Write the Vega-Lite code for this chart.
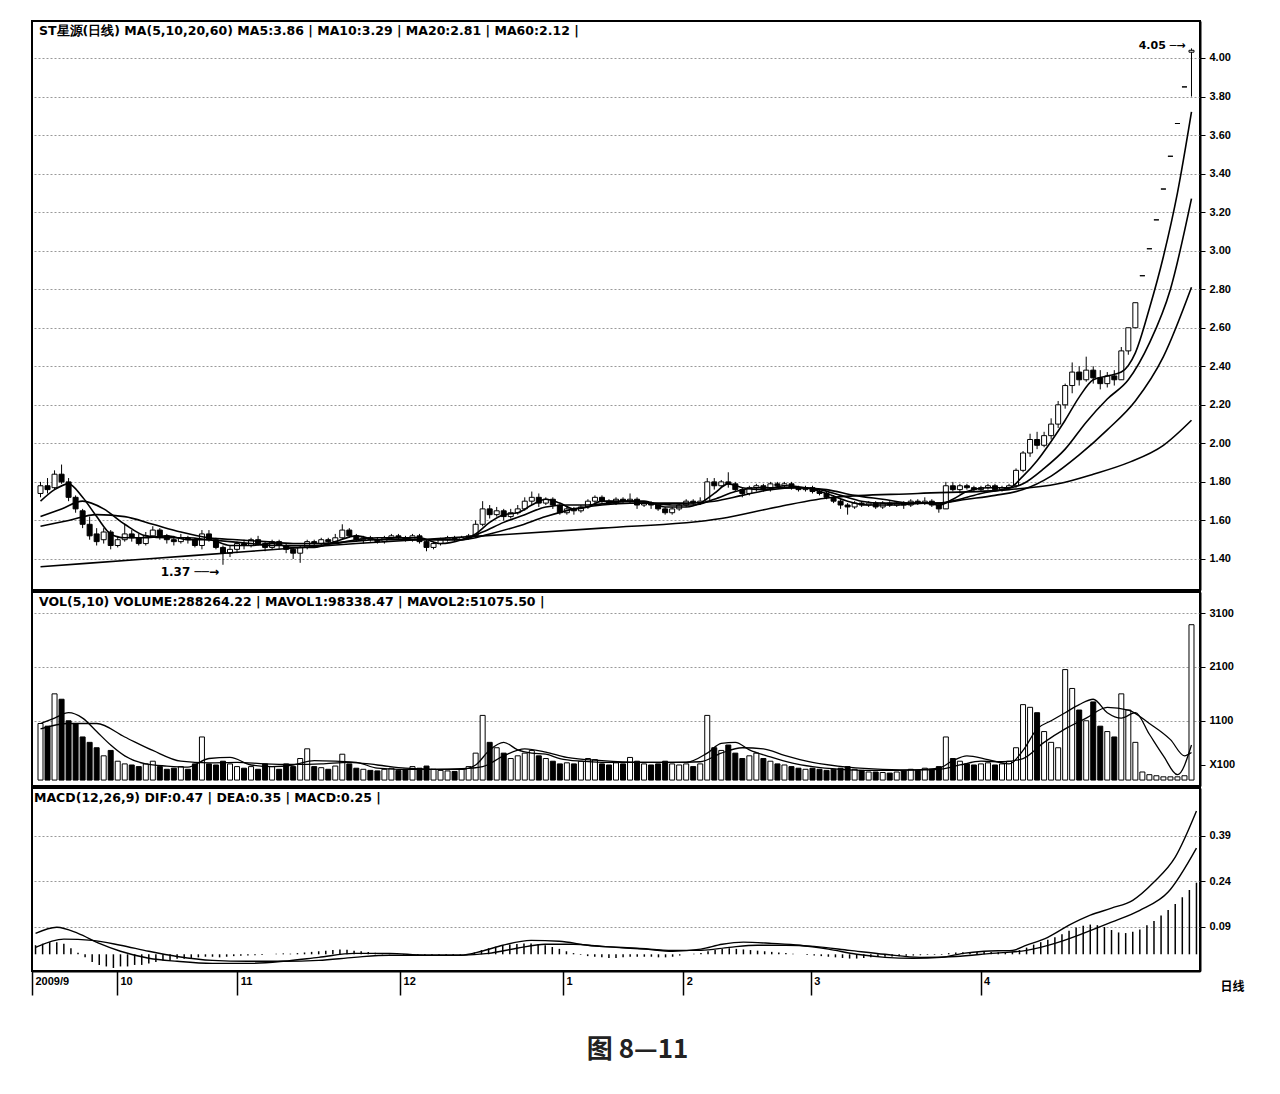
{
"$schema": "https://vega.github.io/schema/vega-lite/v6.json",
"padding": {"left": 30, "top": 20, "right": 10, "bottom": 10},
"background": "white",
"spacing": 0,
"title": {"text": "图 8—11", "orient": "bottom", "anchor": "middle", "font": "Noto Sans CJK SC", "fontSize": 26, "fontWeight": "bold", "color": "#222", "offset": 40},
"config": {
  "view": {"stroke": "black", "strokeWidth": 2},
  "axis": {"labelFont": "Liberation Sans", "labelFontWeight": "bold", "labelFontSize": 11, "labelColor": "black", "tickColor": "black", "domainColor": "black", "domainWidth": 2, "gridColor": "#999", "gridDash": [2, 2]},
  "text": {"font": "DejaVu Sans"}
},
"datasets": {
"bars": [
{"i":0,"o":1.74,"h":1.80,"l":1.72,"c":1.78,"v":1050,"m":0.03},
{"i":1,"o":1.78,"h":1.82,"l":1.74,"c":1.76,"v":1000,"m":0.035},
{"i":2,"o":1.77,"h":1.86,"l":1.76,"c":1.84,"v":1600,"m":0.04},
{"i":3,"o":1.84,"h":1.89,"l":1.79,"c":1.80,"v":1500,"m":0.04},
{"i":4,"o":1.80,"h":1.82,"l":1.70,"c":1.72,"v":1100,"m":0.035},
{"i":5,"o":1.72,"h":1.73,"l":1.64,"c":1.66,"v":1050,"m":0.02},
{"i":6,"o":1.65,"h":1.66,"l":1.56,"c":1.58,"v":800,"m":0.005},
{"i":7,"o":1.58,"h":1.62,"l":1.50,"c":1.52,"v":700,"m":-0.01},
{"i":8,"o":1.53,"h":1.56,"l":1.47,"c":1.49,"v":600,"m":-0.025},
{"i":9,"o":1.50,"h":1.56,"l":1.48,"c":1.54,"v":450,"m":-0.035},
{"i":10,"o":1.54,"h":1.55,"l":1.45,"c":1.47,"v":550,"m":-0.04},
{"i":11,"o":1.47,"h":1.52,"l":1.46,"c":1.50,"v":350,"m":-0.045},
{"i":12,"o":1.50,"h":1.58,"l":1.49,"c":1.53,"v":300,"m":-0.04},
{"i":13,"o":1.53,"h":1.55,"l":1.49,"c":1.51,"v":280,"m":-0.04},
{"i":14,"o":1.51,"h":1.53,"l":1.47,"c":1.48,"v":250,"m":-0.035},
{"i":15,"o":1.48,"h":1.54,"l":1.47,"c":1.52,"v":300,"m":-0.035},
{"i":16,"o":1.52,"h":1.57,"l":1.51,"c":1.55,"v":350,"m":-0.03},
{"i":17,"o":1.55,"h":1.56,"l":1.50,"c":1.52,"v":250,"m":-0.025},
{"i":18,"o":1.52,"h":1.53,"l":1.48,"c":1.50,"v":200,"m":-0.02},
{"i":19,"o":1.50,"h":1.52,"l":1.47,"c":1.49,"v":220,"m":-0.02},
{"i":20,"o":1.49,"h":1.53,"l":1.48,"c":1.51,"v":250,"m":-0.015},
{"i":21,"o":1.51,"h":1.52,"l":1.48,"c":1.50,"v":200,"m":-0.015},
{"i":22,"o":1.50,"h":1.51,"l":1.46,"c":1.47,"v":300,"m":-0.012},
{"i":23,"o":1.47,"h":1.55,"l":1.45,"c":1.53,"v":800,"m":-0.01},
{"i":24,"o":1.53,"h":1.55,"l":1.49,"c":1.50,"v":300,"m":-0.008},
{"i":25,"o":1.50,"h":1.51,"l":1.45,"c":1.46,"v":280,"m":-0.008},
{"i":26,"o":1.46,"h":1.47,"l":1.37,"c":1.43,"v":350,"m":-0.01},
{"i":27,"o":1.43,"h":1.47,"l":1.41,"c":1.45,"v":300,"m":-0.008},
{"i":28,"o":1.45,"h":1.49,"l":1.43,"c":1.48,"v":250,"m":-0.006},
{"i":29,"o":1.48,"h":1.50,"l":1.45,"c":1.47,"v":220,"m":-0.005},
{"i":30,"o":1.47,"h":1.51,"l":1.46,"c":1.50,"v":250,"m":-0.004},
{"i":31,"o":1.50,"h":1.52,"l":1.47,"c":1.48,"v":200,"m":-0.003},
{"i":32,"o":1.48,"h":1.49,"l":1.44,"c":1.46,"v":300,"m":-0.002},
{"i":33,"o":1.46,"h":1.50,"l":1.45,"c":1.49,"v":250,"m":0},
{"i":34,"o":1.49,"h":1.50,"l":1.45,"c":1.47,"v":200,"m":0.002},
{"i":35,"o":1.47,"h":1.48,"l":1.43,"c":1.45,"v":300,"m":0.003},
{"i":36,"o":1.45,"h":1.46,"l":1.40,"c":1.43,"v":250,"m":0.002},
{"i":37,"o":1.43,"h":1.47,"l":1.38,"c":1.46,"v":400,"m":0.004},
{"i":38,"o":1.46,"h":1.50,"l":1.45,"c":1.49,"v":580,"m":0.006},
{"i":39,"o":1.49,"h":1.50,"l":1.46,"c":1.48,"v":250,"m":0.008},
{"i":40,"o":1.48,"h":1.51,"l":1.47,"c":1.50,"v":230,"m":0.01},
{"i":41,"o":1.50,"h":1.51,"l":1.47,"c":1.49,"v":200,"m":0.012},
{"i":42,"o":1.49,"h":1.53,"l":1.48,"c":1.51,"v":260,"m":0.014},
{"i":43,"o":1.51,"h":1.58,"l":1.50,"c":1.55,"v":480,"m":0.016},
{"i":44,"o":1.55,"h":1.56,"l":1.51,"c":1.52,"v":300,"m":0.015},
{"i":45,"o":1.52,"h":1.53,"l":1.49,"c":1.50,"v":220,"m":0.012},
{"i":46,"o":1.50,"h":1.52,"l":1.48,"c":1.51,"v":200,"m":0.01},
{"i":47,"o":1.51,"h":1.52,"l":1.49,"c":1.50,"v":180,"m":0.008},
{"i":48,"o":1.50,"h":1.51,"l":1.48,"c":1.49,"v":170,"m":0.005},
{"i":49,"o":1.49,"h":1.52,"l":1.48,"c":1.51,"v":200,"m":0.003},
{"i":50,"o":1.51,"h":1.53,"l":1.50,"c":1.52,"v":220,"m":0.002},
{"i":51,"o":1.52,"h":1.53,"l":1.50,"c":1.51,"v":180,"m":0},
{"i":52,"o":1.51,"h":1.52,"l":1.49,"c":1.50,"v":200,"m":-0.002},
{"i":53,"o":1.50,"h":1.53,"l":1.49,"c":1.52,"v":250,"m":-0.003},
{"i":54,"o":1.52,"h":1.53,"l":1.48,"c":1.49,"v":220,"m":-0.004},
{"i":55,"o":1.49,"h":1.50,"l":1.44,"c":1.46,"v":260,"m":-0.005},
{"i":56,"o":1.46,"h":1.49,"l":1.45,"c":1.48,"v":200,"m":-0.005},
{"i":57,"o":1.48,"h":1.51,"l":1.47,"c":1.50,"v":180,"m":-0.004},
{"i":58,"o":1.50,"h":1.52,"l":1.49,"c":1.51,"v":170,"m":-0.003},
{"i":59,"o":1.51,"h":1.52,"l":1.49,"c":1.50,"v":160,"m":-0.002},
{"i":60,"o":1.50,"h":1.52,"l":1.50,"c":1.51,"v":200,"m":-0.002},
{"i":61,"o":1.51,"h":1.53,"l":1.50,"c":1.52,"v":250,"m":0},
{"i":62,"o":1.52,"h":1.60,"l":1.51,"c":1.58,"v":500,"m":0.006},
{"i":63,"o":1.58,"h":1.70,"l":1.57,"c":1.66,"v":1200,"m":0.014},
{"i":64,"o":1.66,"h":1.68,"l":1.61,"c":1.63,"v":700,"m":0.02},
{"i":65,"o":1.63,"h":1.67,"l":1.62,"c":1.65,"v":600,"m":0.025},
{"i":66,"o":1.65,"h":1.66,"l":1.60,"c":1.62,"v":500,"m":0.03},
{"i":67,"o":1.62,"h":1.66,"l":1.61,"c":1.64,"v":400,"m":0.032},
{"i":68,"o":1.64,"h":1.68,"l":1.63,"c":1.66,"v":450,"m":0.034},
{"i":69,"o":1.66,"h":1.72,"l":1.65,"c":1.70,"v":500,"m":0.036},
{"i":70,"o":1.70,"h":1.75,"l":1.68,"c":1.72,"v":550,"m":0.036},
{"i":71,"o":1.72,"h":1.74,"l":1.67,"c":1.69,"v":450,"m":0.034},
{"i":72,"o":1.69,"h":1.72,"l":1.68,"c":1.71,"v":400,"m":0.03},
{"i":73,"o":1.71,"h":1.72,"l":1.66,"c":1.68,"v":350,"m":0.024},
{"i":74,"o":1.68,"h":1.69,"l":1.63,"c":1.64,"v":300,"m":0.018},
{"i":75,"o":1.64,"h":1.67,"l":1.63,"c":1.66,"v":320,"m":0.01},
{"i":76,"o":1.66,"h":1.67,"l":1.63,"c":1.65,"v":300,"m":0.004},
{"i":77,"o":1.65,"h":1.68,"l":1.64,"c":1.67,"v":350,"m":-0.002},
{"i":78,"o":1.67,"h":1.71,"l":1.66,"c":1.70,"v":400,"m":-0.006},
{"i":79,"o":1.70,"h":1.73,"l":1.69,"c":1.72,"v":380,"m":-0.008},
{"i":80,"o":1.72,"h":1.73,"l":1.69,"c":1.70,"v":300,"m":-0.01},
{"i":81,"o":1.70,"h":1.71,"l":1.68,"c":1.69,"v":280,"m":-0.012},
{"i":82,"o":1.69,"h":1.72,"l":1.68,"c":1.71,"v":320,"m":-0.012},
{"i":83,"o":1.71,"h":1.72,"l":1.69,"c":1.70,"v":300,"m":-0.01},
{"i":84,"o":1.70,"h":1.74,"l":1.69,"c":1.71,"v":420,"m":-0.008},
{"i":85,"o":1.71,"h":1.72,"l":1.66,"c":1.68,"v":350,"m":-0.008},
{"i":86,"o":1.68,"h":1.70,"l":1.67,"c":1.69,"v":300,"m":-0.008},
{"i":87,"o":1.69,"h":1.70,"l":1.66,"c":1.68,"v":280,"m":-0.008},
{"i":88,"o":1.68,"h":1.69,"l":1.65,"c":1.66,"v":300,"m":-0.01},
{"i":89,"o":1.66,"h":1.67,"l":1.63,"c":1.64,"v":350,"m":-0.01},
{"i":90,"o":1.64,"h":1.67,"l":1.63,"c":1.66,"v":300,"m":-0.008},
{"i":91,"o":1.66,"h":1.69,"l":1.65,"c":1.68,"v":280,"m":-0.004},
{"i":92,"o":1.68,"h":1.71,"l":1.67,"c":1.70,"v":300,"m":0},
{"i":93,"o":1.70,"h":1.71,"l":1.68,"c":1.69,"v":250,"m":0.002},
{"i":94,"o":1.69,"h":1.72,"l":1.68,"c":1.70,"v":300,"m":0.004},
{"i":95,"o":1.70,"h":1.82,"l":1.70,"c":1.80,"v":1200,"m":0.01},
{"i":96,"o":1.80,"h":1.82,"l":1.76,"c":1.78,"v":600,"m":0.014},
{"i":97,"o":1.78,"h":1.81,"l":1.77,"c":1.80,"v":550,"m":0.018},
{"i":98,"o":1.80,"h":1.85,"l":1.77,"c":1.79,"v":650,"m":0.02},
{"i":99,"o":1.79,"h":1.80,"l":1.75,"c":1.76,"v":500,"m":0.018},
{"i":100,"o":1.76,"h":1.77,"l":1.72,"c":1.74,"v":400,"m":0.016},
{"i":101,"o":1.74,"h":1.78,"l":1.73,"c":1.77,"v":450,"m":0.014},
{"i":102,"o":1.77,"h":1.79,"l":1.75,"c":1.78,"v":500,"m":0.012},
{"i":103,"o":1.78,"h":1.79,"l":1.75,"c":1.76,"v":400,"m":0.01},
{"i":104,"o":1.76,"h":1.80,"l":1.75,"c":1.79,"v":350,"m":0.008},
{"i":105,"o":1.79,"h":1.80,"l":1.77,"c":1.78,"v":300,"m":0.006},
{"i":106,"o":1.78,"h":1.80,"l":1.77,"c":1.79,"v":280,"m":0.004},
{"i":107,"o":1.79,"h":1.80,"l":1.76,"c":1.77,"v":250,"m":0.002},
{"i":108,"o":1.77,"h":1.78,"l":1.75,"c":1.76,"v":220,"m":0},
{"i":109,"o":1.76,"h":1.78,"l":1.75,"c":1.77,"v":200,"m":-0.002},
{"i":110,"o":1.77,"h":1.78,"l":1.74,"c":1.75,"v":220,"m":-0.004},
{"i":111,"o":1.75,"h":1.76,"l":1.73,"c":1.74,"v":200,"m":-0.006},
{"i":112,"o":1.74,"h":1.75,"l":1.71,"c":1.72,"v":180,"m":-0.008},
{"i":113,"o":1.72,"h":1.73,"l":1.69,"c":1.70,"v":200,"m":-0.01},
{"i":114,"o":1.70,"h":1.71,"l":1.66,"c":1.68,"v":220,"m":-0.012},
{"i":115,"o":1.68,"h":1.69,"l":1.63,"c":1.67,"v":250,"m":-0.014},
{"i":116,"o":1.67,"h":1.70,"l":1.66,"c":1.69,"v":200,"m":-0.014},
{"i":117,"o":1.69,"h":1.70,"l":1.67,"c":1.68,"v":180,"m":-0.012},
{"i":118,"o":1.68,"h":1.70,"l":1.67,"c":1.69,"v":150,"m":-0.01},
{"i":119,"o":1.69,"h":1.70,"l":1.66,"c":1.67,"v":150,"m":-0.009},
{"i":120,"o":1.67,"h":1.70,"l":1.66,"c":1.69,"v":140,"m":-0.008},
{"i":121,"o":1.69,"h":1.70,"l":1.67,"c":1.68,"v":130,"m":-0.007},
{"i":122,"o":1.68,"h":1.70,"l":1.67,"c":1.69,"v":150,"m":-0.006},
{"i":123,"o":1.69,"h":1.70,"l":1.66,"c":1.68,"v":170,"m":-0.005},
{"i":124,"o":1.68,"h":1.71,"l":1.67,"c":1.70,"v":200,"m":-0.004},
{"i":125,"o":1.70,"h":1.71,"l":1.68,"c":1.69,"v":180,"m":-0.003},
{"i":126,"o":1.69,"h":1.72,"l":1.68,"c":1.70,"v":220,"m":-0.002},
{"i":127,"o":1.70,"h":1.71,"l":1.67,"c":1.68,"v":200,"m":-0.002},
{"i":128,"o":1.68,"h":1.69,"l":1.64,"c":1.66,"v":250,"m":-0.002},
{"i":129,"o":1.66,"h":1.80,"l":1.66,"c":1.78,"v":800,"m":0.004},
{"i":130,"o":1.78,"h":1.80,"l":1.75,"c":1.76,"v":400,"m":0.006},
{"i":131,"o":1.76,"h":1.79,"l":1.74,"c":1.78,"v":350,"m":0.007},
{"i":132,"o":1.78,"h":1.79,"l":1.76,"c":1.77,"v":300,"m":0.008},
{"i":133,"o":1.77,"h":1.78,"l":1.75,"c":1.76,"v":280,"m":0.008},
{"i":134,"o":1.76,"h":1.78,"l":1.75,"c":1.77,"v":300,"m":0.008},
{"i":135,"o":1.77,"h":1.79,"l":1.76,"c":1.78,"v":320,"m":0.008},
{"i":136,"o":1.78,"h":1.79,"l":1.75,"c":1.76,"v":280,"m":0.007},
{"i":137,"o":1.76,"h":1.78,"l":1.75,"c":1.77,"v":300,"m":0.007},
{"i":138,"o":1.77,"h":1.79,"l":1.76,"c":1.78,"v":350,"m":0.008},
{"i":139,"o":1.78,"h":1.87,"l":1.77,"c":1.86,"v":600,"m":0.014},
{"i":140,"o":1.86,"h":1.96,"l":1.85,"c":1.95,"v":1400,"m":0.022},
{"i":141,"o":1.95,"h":2.05,"l":1.93,"c":2.02,"v":1350,"m":0.032},
{"i":142,"o":2.02,"h":2.06,"l":1.97,"c":1.99,"v":1250,"m":0.04},
{"i":143,"o":1.99,"h":2.06,"l":1.98,"c":2.04,"v":900,"m":0.048},
{"i":144,"o":2.04,"h":2.13,"l":2.02,"c":2.10,"v":700,"m":0.056},
{"i":145,"o":2.10,"h":2.22,"l":2.08,"c":2.20,"v":600,"m":0.066},
{"i":146,"o":2.20,"h":2.31,"l":2.18,"c":2.30,"v":2050,"m":0.078},
{"i":147,"o":2.30,"h":2.42,"l":2.26,"c":2.37,"v":1700,"m":0.088},
{"i":148,"o":2.37,"h":2.40,"l":2.30,"c":2.33,"v":1300,"m":0.094},
{"i":149,"o":2.33,"h":2.45,"l":2.32,"c":2.38,"v":1100,"m":0.098},
{"i":150,"o":2.38,"h":2.40,"l":2.31,"c":2.34,"v":1450,"m":0.096},
{"i":151,"o":2.34,"h":2.38,"l":2.28,"c":2.31,"v":1000,"m":0.09},
{"i":152,"o":2.31,"h":2.37,"l":2.29,"c":2.35,"v":900,"m":0.08},
{"i":153,"o":2.35,"h":2.38,"l":2.30,"c":2.33,"v":800,"m":0.072},
{"i":154,"o":2.33,"h":2.50,"l":2.33,"c":2.48,"v":1600,"m":0.07},
{"i":155,"o":2.48,"h":2.60,"l":2.46,"c":2.60,"v":1300,"m":0.074},
{"i":156,"o":2.60,"h":2.73,"l":2.60,"c":2.73,"v":700,"m":0.082},
{"i":157,"o":2.87,"h":2.87,"l":2.87,"c":2.87,"v":150,"m":0.096},
{"i":158,"o":3.01,"h":3.01,"l":3.01,"c":3.01,"v":100,"m":0.11},
{"i":159,"o":3.16,"h":3.16,"l":3.16,"c":3.16,"v":80,"m":0.128},
{"i":160,"o":3.32,"h":3.32,"l":3.32,"c":3.32,"v":60,"m":0.146},
{"i":161,"o":3.49,"h":3.49,"l":3.49,"c":3.49,"v":60,"m":0.166},
{"i":162,"o":3.66,"h":3.66,"l":3.66,"c":3.66,"v":60,"m":0.188},
{"i":163,"o":3.85,"h":3.85,"l":3.85,"c":3.85,"v":80,"m":0.212},
{"i":164,"o":4.03,"h":4.05,"l":3.80,"c":4.04,"v":2883,"m":0.236}
],
"ma": [
{"s":"MA5","i":0,"v":1.70},{"s":"MA5","i":2,"v":1.76},{"s":"MA5","i":4,"v":1.79},{"s":"MA5","i":6,"v":1.72},{"s":"MA5","i":8,"v":1.62},{"s":"MA5","i":10,"v":1.53},{"s":"MA5","i":12,"v":1.51},{"s":"MA5","i":15,"v":1.51},{"s":"MA5","i":18,"v":1.52},{"s":"MA5","i":21,"v":1.50},{"s":"MA5","i":24,"v":1.50},{"s":"MA5","i":27,"v":1.47},{"s":"MA5","i":30,"v":1.47},{"s":"MA5","i":33,"v":1.48},{"s":"MA5","i":36,"v":1.46},{"s":"MA5","i":39,"v":1.46},{"s":"MA5","i":42,"v":1.49},{"s":"MA5","i":45,"v":1.52},{"s":"MA5","i":48,"v":1.50},{"s":"MA5","i":51,"v":1.51},{"s":"MA5","i":54,"v":1.51},{"s":"MA5","i":57,"v":1.48},{"s":"MA5","i":60,"v":1.50},{"s":"MA5","i":62,"v":1.53},{"s":"MA5","i":64,"v":1.59},{"s":"MA5","i":66,"v":1.63},{"s":"MA5","i":68,"v":1.64},{"s":"MA5","i":70,"v":1.68},{"s":"MA5","i":72,"v":1.71},{"s":"MA5","i":74,"v":1.69},{"s":"MA5","i":76,"v":1.66},{"s":"MA5","i":78,"v":1.67},{"s":"MA5","i":80,"v":1.70},{"s":"MA5","i":83,"v":1.70},{"s":"MA5","i":86,"v":1.70},{"s":"MA5","i":89,"v":1.67},{"s":"MA5","i":92,"v":1.67},{"s":"MA5","i":94,"v":1.69},{"s":"MA5","i":96,"v":1.74},{"s":"MA5","i":98,"v":1.79},{"s":"MA5","i":100,"v":1.77},{"s":"MA5","i":103,"v":1.76},{"s":"MA5","i":106,"v":1.78},{"s":"MA5","i":109,"v":1.77},{"s":"MA5","i":112,"v":1.74},{"s":"MA5","i":115,"v":1.70},{"s":"MA5","i":118,"v":1.68},{"s":"MA5","i":122,"v":1.68},{"s":"MA5","i":126,"v":1.69},{"s":"MA5","i":128,"v":1.68},{"s":"MA5","i":130,"v":1.71},{"s":"MA5","i":132,"v":1.75},{"s":"MA5","i":135,"v":1.77},{"s":"MA5","i":138,"v":1.77},{"s":"MA5","i":140,"v":1.83},{"s":"MA5","i":142,"v":1.91},{"s":"MA5","i":144,"v":2.01},{"s":"MA5","i":146,"v":2.12},{"s":"MA5","i":148,"v":2.24},{"s":"MA5","i":150,"v":2.33},{"s":"MA5","i":152,"v":2.35},{"s":"MA5","i":154,"v":2.37},{"s":"MA5","i":156,"v":2.47},{"s":"MA5","i":158,"v":2.70},{"s":"MA5","i":160,"v":2.97},{"s":"MA5","i":162,"v":3.30},{"s":"MA5","i":164,"v":3.72},
{"s":"MA10","i":0,"v":1.62},{"s":"MA10","i":3,"v":1.66},{"s":"MA10","i":6,"v":1.70},{"s":"MA10","i":9,"v":1.66},{"s":"MA10","i":12,"v":1.58},{"s":"MA10","i":15,"v":1.52},{"s":"MA10","i":18,"v":1.51},{"s":"MA10","i":21,"v":1.51},{"s":"MA10","i":24,"v":1.50},{"s":"MA10","i":27,"v":1.49},{"s":"MA10","i":30,"v":1.48},{"s":"MA10","i":33,"v":1.47},{"s":"MA10","i":36,"v":1.47},{"s":"MA10","i":39,"v":1.47},{"s":"MA10","i":42,"v":1.48},{"s":"MA10","i":45,"v":1.50},{"s":"MA10","i":48,"v":1.51},{"s":"MA10","i":51,"v":1.51},{"s":"MA10","i":54,"v":1.50},{"s":"MA10","i":57,"v":1.50},{"s":"MA10","i":60,"v":1.50},{"s":"MA10","i":63,"v":1.54},{"s":"MA10","i":66,"v":1.59},{"s":"MA10","i":69,"v":1.63},{"s":"MA10","i":72,"v":1.67},{"s":"MA10","i":75,"v":1.68},{"s":"MA10","i":78,"v":1.68},{"s":"MA10","i":81,"v":1.69},{"s":"MA10","i":84,"v":1.70},{"s":"MA10","i":87,"v":1.69},{"s":"MA10","i":90,"v":1.68},{"s":"MA10","i":93,"v":1.68},{"s":"MA10","i":96,"v":1.71},{"s":"MA10","i":99,"v":1.75},{"s":"MA10","i":102,"v":1.77},{"s":"MA10","i":105,"v":1.77},{"s":"MA10","i":108,"v":1.77},{"s":"MA10","i":111,"v":1.76},{"s":"MA10","i":114,"v":1.73},{"s":"MA10","i":117,"v":1.70},{"s":"MA10","i":120,"v":1.69},{"s":"MA10","i":124,"v":1.69},{"s":"MA10","i":128,"v":1.69},{"s":"MA10","i":131,"v":1.71},{"s":"MA10","i":134,"v":1.74},{"s":"MA10","i":137,"v":1.76},{"s":"MA10","i":140,"v":1.79},{"s":"MA10","i":143,"v":1.87},{"s":"MA10","i":146,"v":1.97},{"s":"MA10","i":149,"v":2.11},{"s":"MA10","i":152,"v":2.23},{"s":"MA10","i":155,"v":2.33},{"s":"MA10","i":158,"v":2.52},{"s":"MA10","i":161,"v":2.80},{"s":"MA10","i":164,"v":3.27},
{"s":"MA20","i":0,"v":1.57},{"s":"MA20","i":4,"v":1.60},{"s":"MA20","i":8,"v":1.63},{"s":"MA20","i":12,"v":1.62},{"s":"MA20","i":16,"v":1.58},{"s":"MA20","i":20,"v":1.54},{"s":"MA20","i":24,"v":1.51},{"s":"MA20","i":28,"v":1.50},{"s":"MA20","i":32,"v":1.49},{"s":"MA20","i":36,"v":1.48},{"s":"MA20","i":40,"v":1.48},{"s":"MA20","i":44,"v":1.49},{"s":"MA20","i":48,"v":1.50},{"s":"MA20","i":52,"v":1.50},{"s":"MA20","i":56,"v":1.50},{"s":"MA20","i":60,"v":1.50},{"s":"MA20","i":64,"v":1.53},{"s":"MA20","i":68,"v":1.57},{"s":"MA20","i":72,"v":1.62},{"s":"MA20","i":76,"v":1.66},{"s":"MA20","i":80,"v":1.68},{"s":"MA20","i":84,"v":1.69},{"s":"MA20","i":88,"v":1.69},{"s":"MA20","i":92,"v":1.69},{"s":"MA20","i":96,"v":1.70},{"s":"MA20","i":100,"v":1.73},{"s":"MA20","i":104,"v":1.76},{"s":"MA20","i":108,"v":1.77},{"s":"MA20","i":112,"v":1.76},{"s":"MA20","i":116,"v":1.73},{"s":"MA20","i":120,"v":1.71},{"s":"MA20","i":124,"v":1.69},{"s":"MA20","i":128,"v":1.69},{"s":"MA20","i":132,"v":1.71},{"s":"MA20","i":136,"v":1.73},{"s":"MA20","i":140,"v":1.76},{"s":"MA20","i":144,"v":1.83},{"s":"MA20","i":148,"v":1.94},{"s":"MA20","i":152,"v":2.07},{"s":"MA20","i":156,"v":2.22},{"s":"MA20","i":160,"v":2.45},{"s":"MA20","i":164,"v":2.81},
{"s":"MA60","i":0,"v":1.36},{"s":"MA60","i":15,"v":1.40},{"s":"MA60","i":30,"v":1.44},{"s":"MA60","i":45,"v":1.48},{"s":"MA60","i":63,"v":1.52},{"s":"MA60","i":80,"v":1.56},{"s":"MA60","i":97,"v":1.61},{"s":"MA60","i":105,"v":1.67},{"s":"MA60","i":113,"v":1.72},{"s":"MA60","i":125,"v":1.74},{"s":"MA60","i":138,"v":1.76},{"s":"MA60","i":145,"v":1.79},{"s":"MA60","i":150,"v":1.84},{"s":"MA60","i":155,"v":1.90},{"s":"MA60","i":160,"v":1.99},{"s":"MA60","i":164,"v":2.12}
],
"vma": [
{"s":"MAVOL1","i":0,"v":1050},{"s":"MAVOL1","i":2,"v":1150},{"s":"MAVOL1","i":4,"v":1250},{"s":"MAVOL1","i":6,"v":1150},{"s":"MAVOL1","i":8,"v":900},{"s":"MAVOL1","i":10,"v":650},{"s":"MAVOL1","i":12,"v":450},{"s":"MAVOL1","i":15,"v":300},{"s":"MAVOL1","i":18,"v":260},{"s":"MAVOL1","i":21,"v":240},{"s":"MAVOL1","i":24,"v":400},{"s":"MAVOL1","i":27,"v":420},{"s":"MAVOL1","i":30,"v":280},{"s":"MAVOL1","i":33,"v":250},{"s":"MAVOL1","i":36,"v":280},{"s":"MAVOL1","i":39,"v":360},{"s":"MAVOL1","i":42,"v":350},{"s":"MAVOL1","i":45,"v":330},{"s":"MAVOL1","i":48,"v":220},{"s":"MAVOL1","i":51,"v":200},{"s":"MAVOL1","i":54,"v":200},{"s":"MAVOL1","i":57,"v":200},{"s":"MAVOL1","i":60,"v":200},{"s":"MAVOL1","i":62,"v":280},{"s":"MAVOL1","i":64,"v":560},{"s":"MAVOL1","i":66,"v":700},{"s":"MAVOL1","i":68,"v":560},{"s":"MAVOL1","i":70,"v":500},{"s":"MAVOL1","i":72,"v":480},{"s":"MAVOL1","i":74,"v":400},{"s":"MAVOL1","i":77,"v":350},{"s":"MAVOL1","i":80,"v":330},{"s":"MAVOL1","i":84,"v":330},{"s":"MAVOL1","i":88,"v":330},{"s":"MAVOL1","i":92,"v":330},{"s":"MAVOL1","i":95,"v":500},{"s":"MAVOL1","i":97,"v":680},{"s":"MAVOL1","i":99,"v":700},{"s":"MAVOL1","i":101,"v":560},{"s":"MAVOL1","i":104,"v":430},{"s":"MAVOL1","i":107,"v":320},{"s":"MAVOL1","i":110,"v":250},{"s":"MAVOL1","i":114,"v":200},{"s":"MAVOL1","i":118,"v":180},{"s":"MAVOL1","i":122,"v":180},{"s":"MAVOL1","i":126,"v":200},{"s":"MAVOL1","i":128,"v":220},{"s":"MAVOL1","i":130,"v":360},{"s":"MAVOL1","i":132,"v":450},{"s":"MAVOL1","i":135,"v":380},{"s":"MAVOL1","i":138,"v":300},{"s":"MAVOL1","i":140,"v":550},{"s":"MAVOL1","i":142,"v":950},{"s":"MAVOL1","i":144,"v":1100},{"s":"MAVOL1","i":146,"v":1250},{"s":"MAVOL1","i":148,"v":1400},{"s":"MAVOL1","i":150,"v":1500},{"s":"MAVOL1","i":152,"v":1250},{"s":"MAVOL1","i":154,"v":1150},{"s":"MAVOL1","i":156,"v":1250},{"s":"MAVOL1","i":158,"v":850},{"s":"MAVOL1","i":160,"v":450},{"s":"MAVOL1","i":162,"v":100},{"s":"MAVOL1","i":164,"v":650},
{"s":"MAVOL2","i":0,"v":950},{"s":"MAVOL2","i":4,"v":1050},{"s":"MAVOL2","i":8,"v":1050},{"s":"MAVOL2","i":12,"v":800},{"s":"MAVOL2","i":16,"v":550},{"s":"MAVOL2","i":20,"v":350},{"s":"MAVOL2","i":24,"v":320},{"s":"MAVOL2","i":28,"v":330},{"s":"MAVOL2","i":32,"v":300},{"s":"MAVOL2","i":36,"v":290},{"s":"MAVOL2","i":40,"v":300},{"s":"MAVOL2","i":44,"v":330},{"s":"MAVOL2","i":48,"v":280},{"s":"MAVOL2","i":52,"v":220},{"s":"MAVOL2","i":56,"v":200},{"s":"MAVOL2","i":60,"v":210},{"s":"MAVOL2","i":63,"v":250},{"s":"MAVOL2","i":66,"v":450},{"s":"MAVOL2","i":69,"v":580},{"s":"MAVOL2","i":72,"v":520},{"s":"MAVOL2","i":75,"v":420},{"s":"MAVOL2","i":80,"v":360},{"s":"MAVOL2","i":85,"v":330},{"s":"MAVOL2","i":90,"v":330},{"s":"MAVOL2","i":94,"v":340},{"s":"MAVOL2","i":97,"v":500},{"s":"MAVOL2","i":100,"v":600},{"s":"MAVOL2","i":103,"v":580},{"s":"MAVOL2","i":106,"v":460},{"s":"MAVOL2","i":110,"v":330},{"s":"MAVOL2","i":115,"v":240},{"s":"MAVOL2","i":120,"v":200},{"s":"MAVOL2","i":125,"v":190},{"s":"MAVOL2","i":128,"v":200},{"s":"MAVOL2","i":131,"v":280},{"s":"MAVOL2","i":134,"v":350},{"s":"MAVOL2","i":137,"v":340},{"s":"MAVOL2","i":140,"v":400},{"s":"MAVOL2","i":143,"v":700},{"s":"MAVOL2","i":146,"v":950},{"s":"MAVOL2","i":149,"v":1150},{"s":"MAVOL2","i":152,"v":1350},{"s":"MAVOL2","i":155,"v":1300},{"s":"MAVOL2","i":158,"v":1050},{"s":"MAVOL2","i":161,"v":750},{"s":"MAVOL2","i":163,"v":450},{"s":"MAVOL2","i":164,"v":510}
],
"macd": [
{"s":"DIF","i":0,"v":0.069},{"s":"DIF","i":3,"v":0.089},{"s":"DIF","i":6,"v":0.069},{"s":"DIF","i":9,"v":0.036},{"s":"DIF","i":12,"v":0.010},{"s":"DIF","i":16,"v":-0.013},{"s":"DIF","i":20,"v":-0.023},{"s":"DIF","i":25,"v":-0.030},{"s":"DIF","i":30,"v":-0.030},{"s":"DIF","i":35,"v":-0.023},{"s":"DIF","i":40,"v":-0.010},{"s":"DIF","i":45,"v":0.003},{"s":"DIF","i":50,"v":0.003},{"s":"DIF","i":55,"v":-0.003},{"s":"DIF","i":60,"v":-0.003},{"s":"DIF","i":63,"v":0.010},{"s":"DIF","i":66,"v":0.030},{"s":"DIF","i":70,"v":0.046},{"s":"DIF","i":74,"v":0.043},{"s":"DIF","i":78,"v":0.030},{"s":"DIF","i":82,"v":0.023},{"s":"DIF","i":86,"v":0.017},{"s":"DIF","i":90,"v":0.010},{"s":"DIF","i":94,"v":0.017},{"s":"DIF","i":97,"v":0.033},{"s":"DIF","i":100,"v":0.040},{"s":"DIF","i":104,"v":0.036},{"s":"DIF","i":108,"v":0.030},{"s":"DIF","i":112,"v":0.017},{"s":"DIF","i":116,"v":0.000},{"s":"DIF","i":120,"v":-0.010},{"s":"DIF","i":124,"v":-0.013},{"s":"DIF","i":128,"v":-0.010},{"s":"DIF","i":131,"v":0.003},{"s":"DIF","i":134,"v":0.010},{"s":"DIF","i":138,"v":0.013},{"s":"DIF","i":140,"v":0.030},{"s":"DIF","i":143,"v":0.056},{"s":"DIF","i":146,"v":0.096},{"s":"DIF","i":149,"v":0.129},{"s":"DIF","i":152,"v":0.152},{"s":"DIF","i":155,"v":0.178},{"s":"DIF","i":158,"v":0.238},{"s":"DIF","i":161,"v":0.320},{"s":"DIF","i":164,"v":0.472},
{"s":"DEA","i":0,"v":0.023},{"s":"DEA","i":4,"v":0.050},{"s":"DEA","i":8,"v":0.046},{"s":"DEA","i":12,"v":0.030},{"s":"DEA","i":16,"v":0.010},{"s":"DEA","i":20,"v":-0.007},{"s":"DEA","i":25,"v":-0.020},{"s":"DEA","i":30,"v":-0.023},{"s":"DEA","i":35,"v":-0.023},{"s":"DEA","i":40,"v":-0.020},{"s":"DEA","i":45,"v":-0.010},{"s":"DEA","i":50,"v":-0.003},{"s":"DEA","i":55,"v":-0.003},{"s":"DEA","i":60,"v":-0.003},{"s":"DEA","i":64,"v":0.003},{"s":"DEA","i":68,"v":0.020},{"s":"DEA","i":72,"v":0.033},{"s":"DEA","i":76,"v":0.033},{"s":"DEA","i":80,"v":0.026},{"s":"DEA","i":85,"v":0.020},{"s":"DEA","i":90,"v":0.013},{"s":"DEA","i":94,"v":0.013},{"s":"DEA","i":98,"v":0.023},{"s":"DEA","i":102,"v":0.030},{"s":"DEA","i":106,"v":0.030},{"s":"DEA","i":110,"v":0.026},{"s":"DEA","i":115,"v":0.013},{"s":"DEA","i":120,"v":0.000},{"s":"DEA","i":125,"v":-0.010},{"s":"DEA","i":130,"v":-0.007},{"s":"DEA","i":135,"v":0.003},{"s":"DEA","i":140,"v":0.013},{"s":"DEA","i":144,"v":0.036},{"s":"DEA","i":148,"v":0.069},{"s":"DEA","i":152,"v":0.106},{"s":"DEA","i":156,"v":0.145},{"s":"DEA","i":160,"v":0.205},{"s":"DEA","i":164,"v":0.350}
]
},
"vconcat": [
{
 "width": 1168, "height": 569,
 "layer": [
  {"data": {"name": "bars"}, "mark": {"type": "rule", "color": "black", "strokeWidth": 1},
   "encoding": {
    "x": {"field": "i", "type": "quantitative", "scale": {"domain": [-0.5, 164.5], "nice": false, "zero": false}, "axis": null},
    "y": {"field": "l", "type": "quantitative", "scale": {"domain": [1.239, 4.192], "nice": false, "zero": false},
          "axis": {"orient": "right", "title": null, "values": [1.4, 1.6, 1.8, 2.0, 2.2, 2.4, 2.6, 2.8, 3.0, 3.2, 3.4, 3.6, 3.8, 4.0], "format": ".2f", "grid": true, "tickSize": 5, "labelPadding": 4}},
    "y2": {"field": "h"}}},
  {"data": {"name": "bars"}, "mark": {"type": "bar", "size": 5, "stroke": "black", "strokeWidth": 1},
   "encoding": {
    "x": {"field": "i", "type": "quantitative"},
    "y": {"field": "o", "type": "quantitative"},
    "y2": {"field": "c"},
    "fill": {"condition": {"test": "datum.c >= datum.o", "value": "white"}, "value": "black"}}},
  {"data": {"name": "ma"}, "mark": {"type": "line", "color": "black", "strokeWidth": 1.6, "interpolate": "monotone"},
   "encoding": {
    "x": {"field": "i", "type": "quantitative"},
    "y": {"field": "v", "type": "quantitative"},
    "detail": {"field": "s"}}},
  {"data": {"values": [{}]}, "mark": {"type": "text", "align": "left", "baseline": "top", "dx": 2, "dy": 4, "fontSize": 12.5, "fontWeight": "bold", "color": "black"},
   "encoding": {"x": {"datum": -0.5, "type": "quantitative"}, "y": {"datum": 4.192, "type": "quantitative"},
    "text": {"value": "ST星源(日线)  MA(5,10,20,60)  MA5:3.86 |  MA10:3.29 |  MA20:2.81 |  MA60:2.12 |"}}},
  {"data": {"values": [{}]}, "mark": {"type": "text", "align": "right", "baseline": "middle", "dx": -4, "dy": 7, "fontSize": 12, "fontWeight": "bold", "color": "black"},
   "encoding": {"x": {"datum": 26, "type": "quantitative"}, "y": {"datum": 1.37, "type": "quantitative"}, "text": {"value": "1.37 ──→"}}},
  {"data": {"values": [{}]}, "mark": {"type": "text", "align": "right", "baseline": "middle", "dx": -6, "dy": -2, "fontSize": 11, "fontWeight": "bold", "color": "black"},
   "encoding": {"x": {"datum": 164, "type": "quantitative"}, "y": {"datum": 4.05, "type": "quantitative"}, "text": {"value": "4.05 ─→"}}}
 ]
},
{
 "width": 1168, "height": 194,
 "layer": [
  {"data": {"name": "bars"}, "mark": {"type": "bar", "size": 5, "stroke": "black", "strokeWidth": 1},
   "encoding": {
    "x": {"field": "i", "type": "quantitative", "scale": {"domain": [-0.5, 164.5], "nice": false, "zero": false}, "axis": null},
    "y": {"field": "v", "type": "quantitative", "scale": {"domain": [-110, 3490], "nice": false, "zero": false},
          "axis": {"orient": "right", "title": null, "values": [280, 1100, 2100, 3100], "labelExpr": "datum.value < 1000 ? 'X100' : datum.label", "format": "d", "grid": true, "gridOpacity": {"condition": {"test": "datum.value < 1000", "value": 0}, "value": 1}, "tickSize": 5, "labelPadding": 4}},
    "y2": {"datum": 0},
    "fill": {"condition": {"test": "datum.c >= datum.o", "value": "white"}, "value": "black"}}},
  {"data": {"name": "vma"}, "mark": {"type": "line", "color": "black", "strokeWidth": 1.3, "interpolate": "monotone"},
   "encoding": {
    "x": {"field": "i", "type": "quantitative"},
    "y": {"field": "v", "type": "quantitative"},
    "detail": {"field": "s"}}},
  {"data": {"values": [{}]}, "mark": {"type": "text", "align": "left", "baseline": "top", "dx": 2, "dy": 4, "fontSize": 12.5, "fontWeight": "bold", "color": "black"},
   "encoding": {"x": {"datum": -0.5, "type": "quantitative"}, "y": {"datum": 3490, "type": "quantitative"},
    "text": {"value": "VOL(5,10)  VOLUME:288264.22 |  MAVOL1:98338.47 |  MAVOL2:51075.50 |"}}}
 ]
},
{
 "width": 1168, "height": 183,
 "layer": [
  {"data": {"name": "bars"}, "mark": {"type": "rule", "color": "black", "strokeWidth": 1.5},
   "encoding": {
    "x": {"field": "i", "type": "quantitative", "scale": {"domain": [-0.5, 164.5], "nice": false, "zero": false},
          "axis": {"orient": "bottom", "title": "日线", "titleX": 1200, "titleY": 15, "titleAlign": "center", "titleBaseline": "middle", "titleFont": "Noto Sans CJK SC", "titleFontSize": 12, "titleFontWeight": "bold",
                   "values": [-0.5, 11.5, 28.5, 51.5, 74.5, 91.5, 109.5, 133.5],
                   "labelExpr": "datum.value < 0 ? '2009/9' : datum.value < 12 ? '10' : datum.value < 29 ? '11' : datum.value < 52 ? '12' : datum.value < 75 ? '1' : datum.value < 92 ? '2' : datum.value < 110 ? '3' : '4'",
                   "grid": false, "tickSize": 24, "tickWidth": 1.5, "labelAlign": "left", "labelBaseline": "top", "labelPadding": -20, "labelOffset": 3, "labelFlush": false}},
    "y": {"field": "m", "type": "quantitative", "scale": {"domain": [-0.055, 0.548], "nice": false, "zero": false},
          "axis": {"orient": "right", "title": null, "values": [0.09, 0.24, 0.39], "format": ".2f", "grid": true, "tickSize": 5, "labelPadding": 4}},
    "y2": {"datum": 0}}},
  {"data": {"name": "macd"}, "mark": {"type": "line", "color": "black", "strokeWidth": 1.4, "interpolate": "monotone"},
   "encoding": {
    "x": {"field": "i", "type": "quantitative"},
    "y": {"field": "v", "type": "quantitative"},
    "detail": {"field": "s"}}},
  {"data": {"values": [{}]}, "mark": {"type": "text", "align": "left", "baseline": "top", "dx": 2, "dy": 4, "fontSize": 12.5, "fontWeight": "bold", "color": "black"},
   "encoding": {"x": {"datum": -0.5, "type": "quantitative"}, "y": {"datum": 0.548, "type": "quantitative"},
    "text": {"value": "MACD(12,26,9)  DIF:0.47 |  DEA:0.35 |  MACD:0.25 |"}}}
 ]
}
]
}
